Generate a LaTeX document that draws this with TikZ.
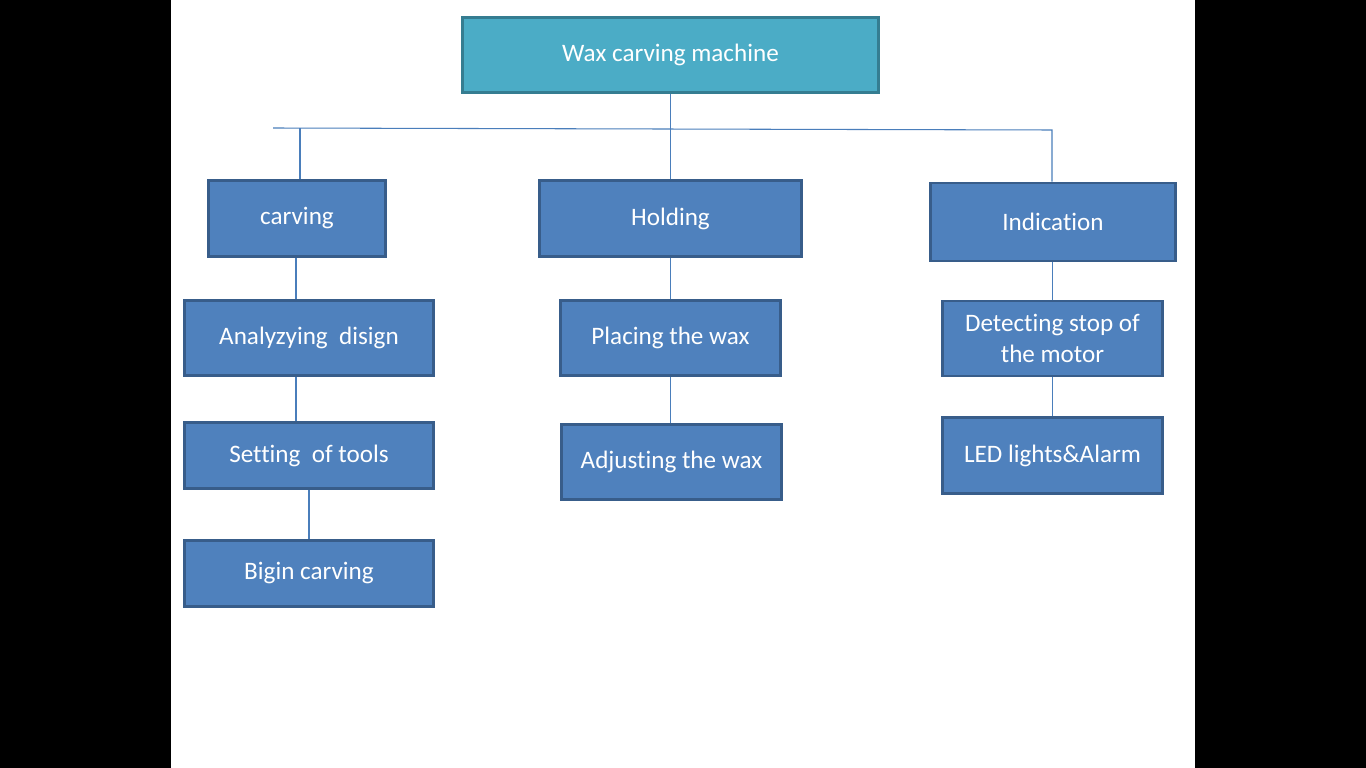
\documentclass[tikz,border=0pt]{standalone}
\usepackage{fontspec}
\setmainfont{Carlito}[Ligatures=CommonOff]

\definecolor{boxfill}{HTML}{4F81BD}
\definecolor{boxline}{HTML}{385D8A}
\definecolor{topfill}{HTML}{4BACC6}
\definecolor{topline}{HTML}{357D91}
\definecolor{linkblue}{HTML}{4A7EBB}

\tikzset{
  blk/.style={draw=boxline, fill=boxfill, line width=1.7pt, text=white, align=center,
    inner sep=0pt, font=\fontsize{14.3}{17.2}\selectfont},
  topblk/.style={blk, draw=topline, fill=topfill},
  link/.style={draw=linkblue, line width=0.6pt}
}

\begin{document}
\begin{tikzpicture}

\useasboundingbox (0,0) rectangle (27.32,-15.36);
\fill [black] (0,0) rectangle (27.32,-15.36);
\fill [white] (3.42,0) rectangle (23.9,-15.36);

\node [topblk, minimum width=8.32cm, minimum height=1.5cm] (wax) at (13.41,-1.1) {Wax carving machine};

\node [blk, minimum width=3.54cm, minimum height=1.52cm] (carv) at (5.94,-4.37) {carving};
\node [blk, minimum width=5.24cm, minimum height=1.52cm] (hold) at (13.41,-4.37) {Holding};
\node [blk, minimum width=4.9cm, minimum height=1.56cm] (ind) at (21.06,-4.44) {Indication};

\node [blk, minimum width=4.98cm, minimum height=1.5cm] (anl) at (6.18,-6.76) {Analyzying\ \ disign};
\node [blk, minimum width=4.98cm, minimum height=1.32cm] (set) at (6.18,-9.11) {Setting\ \ of tools};
\node [blk, minimum width=4.98cm, minimum height=1.32cm] (bgn) at (6.18,-11.47) {Bigin carving};

\node [blk, minimum width=4.4cm, minimum height=1.5cm] (plc) at (13.41,-6.76) {Placing the wax};
\node [blk, minimum width=4.4cm, minimum height=1.5cm] (adj) at (13.43,-9.24) {Adjusting the wax};

\node [blk, minimum width=4.4cm, minimum height=1.5cm] (det) at (21.05,-6.77) {Detecting stop of\\the motor};
\node [blk, minimum width=4.4cm, minimum height=1.52cm] (led) at (21.05,-9.11) {LED lights\&Alarm};

\coordinate (busl) at (5.46,-2.56);
\coordinate (busc) at (6.0,-2.57);
\coordinate (busr) at (21.04,-2.6);

\begin{scope}[link]
\draw (busl) -- (busr) -- (ind.north -| busr); %bus-ind
\draw (wax.south) -- (hold.north); %wax-hold
\draw (busc) -- (carv.north -| busc); %bus-carv
\draw (carv.south -| 5.92,0) -- (anl.north -| 5.92,0); %carv-anl
\draw (anl.south -| 5.92,0) -- (set.north -| 5.92,0); %anl-set
\draw (set.south) -- (bgn.north); %set-bgn
\draw (hold.south) -- (plc.north); %hold-plc
\draw (plc.south) -- (adj.north -| plc.south); %plc-adj
\draw (ind.south -| det.north) -- (det.north); %ind-det
\draw (det.south) -- (led.north); %det-led
\end{scope}

\end{tikzpicture}
\end{document}
